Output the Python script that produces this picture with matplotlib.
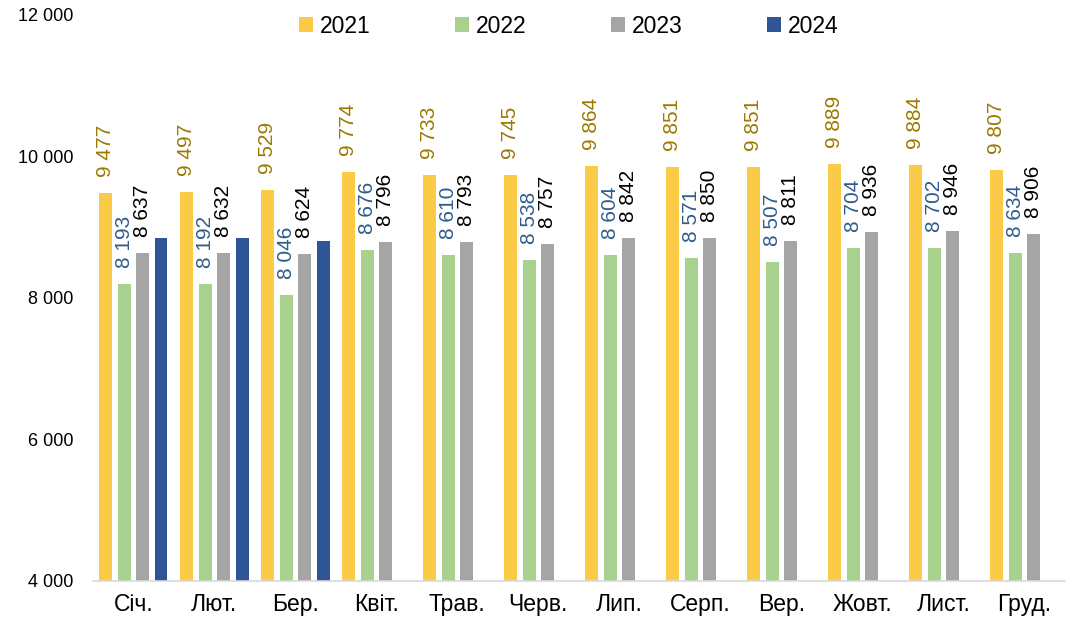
import matplotlib.pyplot as plt
import numpy as np

plt.rcParams['font.family'] = ['Liberation Sans', 'DejaVu Sans']

months = ['Січ.', 'Лют.', 'Бер.', 'Квіт.', 'Трав.', 'Черв.', 'Лип.', 'Серп.',
          'Вер.', 'Жовт.', 'Лист.', 'Груд.']
y2021 = [9477, 9497, 9529, 9774, 9733, 9745, 9864, 9851, 9851, 9889, 9884, 9807]
y2022 = [8193, 8192, 8046, 8676, 8610, 8538, 8604, 8571, 8507, 8704, 8702, 8634]
y2023 = [8637, 8632, 8624, 8796, 8793, 8757, 8842, 8850, 8811, 8936, 8946, 8906]
y2024 = [8850, 8848, 8803]
yticks = [4000, 6000, 8000, 10000, 12000]

series = [
    ('2021', y2021, '#FBCB47', '#9C7800', True),
    ('2022', y2022, '#A9D18E', '#2F5D8C', True),
    ('2023', y2023, '#A5A5A5', '#000000', True),
    ('2024', y2024, '#2F5597', '#2F5597', False),
]


def fmt(v):
    return f'{v:,}'.replace(',', ' ')


fig = plt.figure(figsize=(10.79, 6.24), dpi=100)
ax = fig.add_axes([0.086, 0.069, 0.901, 0.907])

x = np.arange(len(months))
step = 0.228
width = 0.16
handles = []
for i, (name, vals, color, lcolor, labelled) in enumerate(series):
    pos = x[:len(vals)] + (i - 1.5) * step
    bars = ax.bar(pos, vals, width=width, color=color, label=name, zorder=2)
    handles.append(bars)
    if labelled:
        for p, v in zip(pos, vals):
            ax.annotate(fmt(v), (p, v), xytext=(0, 11.5), textcoords='offset points',
                        rotation=90, ha='center', va='bottom', fontsize=15,
                        color=lcolor)

ax.set_xlim(-0.5, len(months) - 0.5)
ax.set_ylim(4000, 12000)
ax.set_yticks(yticks)
ax.set_yticklabels([fmt(t) for t in yticks], fontsize=13)
ax.set_xticks(x)
ax.set_xticklabels(months, fontsize=16.5)
ax.tick_params(axis='y', length=0, pad=14)
ax.tick_params(axis='x', length=0, pad=9)
for s in ['top', 'right', 'left']:
    ax.spines[s].set_visible(False)
ax.spines['bottom'].set_color('#D9D9D9')
ax.spines['bottom'].set_linewidth(1.2)

fig.legend(handles=handles, loc='center', bbox_to_anchor=(0.527, 0.958), ncol=4,
           frameon=False, fontsize=16.5, handlelength=0.6, handleheight=0.6,
           handletextpad=0.3, columnspacing=3.7)

fig.savefig('out.png', dpi=100)
